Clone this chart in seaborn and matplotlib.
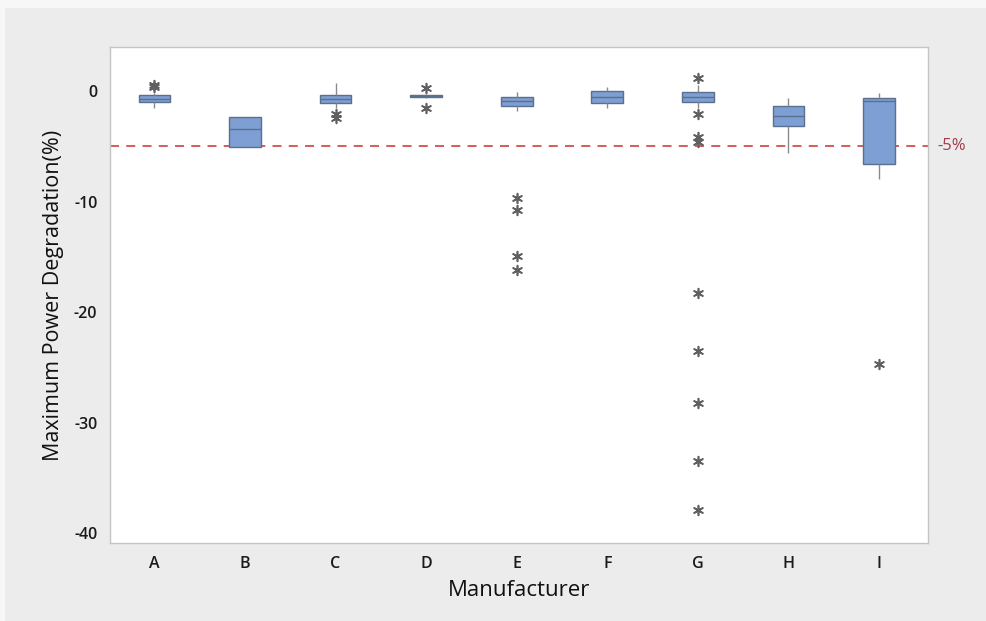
import pandas as pd
import matplotlib.pyplot as plt
import matplotlib.patches as mpatches
import seaborn as sns

# --- Data ---
manufacturers = ['A', 'B', 'C', 'D', 'E', 'F', 'G', 'H', 'I']

# box core values: lower whisker, Q1, median, Q3, upper whisker
core_A = [-1.5, -1.0, -0.7, -0.4, -0.15]
core_B = [-5.1, -5.1, -3.4, -2.35, -2.35]
core_C = [-1.55, -1.1, -0.75, -0.4, 0.7]
core_D = [-0.65, -0.58, -0.45, -0.33, -0.25]
core_E = [-1.85, -1.4, -0.9, -0.5, -0.05]
core_F = [-1.55, -1.05, -0.5, 0.0, 0.35]
core_G = [-1.5, -1.0, -0.55, -0.05, 0.5]
core_H = [-5.6, -3.2, -2.25, -1.4, -0.65]
core_I = [-8.0, -6.6, -0.95, -0.65, -0.2]

# outliers (asterisks)
out_A = [0.55, 0.35]
out_C = [-2.1, -2.45]
out_D = [0.25, -1.5]
out_E = [-9.7, -10.8, -14.9, -16.2]
out_G = [1.2, -2.1, -4.15, -4.6, -18.3, -23.5, -28.2, -33.5, -37.9]
out_I = [-24.7]

threshold = -5
threshold_label = '-5%'

cores = [core_A, core_B, core_C, core_D, core_E, core_F, core_G, core_H, core_I]
outs = {'A': out_A, 'C': out_C, 'D': out_D, 'E': out_E, 'G': out_G, 'I': out_I}

box_df = pd.DataFrame(
    [(m, v) for m, vals in zip(manufacturers, cores) for v in vals],
    columns=['Manufacturer', 'Degradation'])
out_df = pd.DataFrame(
    [(m, v) for m, vals in outs.items() for v in vals],
    columns=['Manufacturer', 'Degradation'])

# --- Style ---
sns.set_style('white')
plt.rcParams['font.family'] = ['Open Sans', 'DejaVu Sans']

fig = plt.figure(figsize=(9.86, 6.21), dpi=100, facecolor='#f7f7f7')
# gray panel behind everything (thin light border on left/top like the source)
fig.patches.append(mpatches.Rectangle((5 / 986, 0), 1, 1 - 8 / 621,
                                      transform=fig.transFigure,
                                      facecolor='#ececec', edgecolor='none',
                                      zorder=-10))
ax = fig.add_axes([110 / 986, 78 / 621, 818 / 986, 496 / 621])
ax.set_facecolor('white')

box_color = '#7d9fd3'
edge_color = '#5b6f8e'
sns.boxplot(data=box_df, x='Manufacturer', y='Degradation', order=manufacturers,
            whis=(0, 100), width=0.35, color=box_color, saturation=1,
            linecolor=edge_color, linewidth=1.0, showfliers=False,
            medianprops={'color': edge_color, 'linewidth': 1.0},
            whiskerprops={'color': '#8a8a8a', 'linewidth': 1.0},
            capprops={'linewidth': 0}, ax=ax)

sns.stripplot(data=out_df, x='Manufacturer', y='Degradation', order=manufacturers,
              jitter=False, marker=(6, 2, 0), size=7, color='#606060',
              linewidth=1.2, edgecolor='#606060', ax=ax)

ax.axhline(threshold, color='#d0504f', linestyle=(0, (5, 4)), linewidth=1.3,
           zorder=0.5)
ax.text(1.011, threshold, threshold_label, transform=ax.get_yaxis_transform(),
        color='#a23a48', fontsize=12, va='center', ha='left', clip_on=False)

ax.set_xlim(-0.49, 8.54)
ax.set_ylim(-40.9, 3.98)
ax.set_yticks([0, -10, -20, -30, -40])
ax.set_yticklabels(['0', '-10', '-20', '-30', '-40'])

for side in ['top', 'right', 'bottom', 'left']:
    ax.spines[side].set_visible(True)
    ax.spines[side].set_color('#c4c4c4')
    ax.spines[side].set_linewidth(1.0)
ax.tick_params(axis='both', length=4, color='#b0b0b0', labelsize=11.5,
               labelcolor='#1a1a1a', pad=5)
for lbl in ax.get_xticklabels() + ax.get_yticklabels():
    lbl.set_fontweight('semibold')

ax.set_xlabel('Manufacturer', fontsize=16, color='#111111', labelpad=6,
              fontweight='medium')
ax.set_ylabel('Maximum Power Degradation(%)', fontsize=15.5, color='#111111',
              labelpad=7, fontweight='medium')

fig.savefig('out.png', dpi=100, facecolor=fig.get_facecolor())
